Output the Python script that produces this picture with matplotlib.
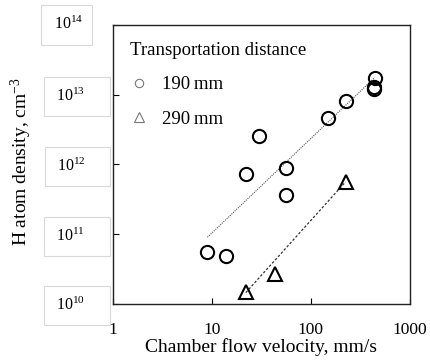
import matplotlib
matplotlib.use("Agg")
import matplotlib.pyplot as plt
from matplotlib.path import Path
from matplotlib.ticker import FixedLocator, NullLocator

plt.rcParams['font.family'] = ['Liberation Serif', 'DejaVu Serif']
plt.rcParams['mathtext.fontset'] = 'stix'

# --- data ---
v_190 = [9.0, 13.8, 22.0, 29.6, 56.0, 56.0, 150, 224, 445, 430, 435]
n_190 = [5.6e10, 4.85e10, 7.2e11, 2.54e12, 9.0e11, 3.6e11, 4.6e12, 8.0e12, 1.72e13, 1.3e13, 1.22e13]
v_290 = [22.0, 43.6, 224]
n_290 = [1.5e10, 2.7e10, 5.6e11]

# fitted trend lines (end points)
fit_190_v = [9.0, 440]
fit_190_n = [9.0e10, 1.75e13]
fit_290_v = [22.0, 224]
fit_290_n = [1.45e10, 5.6e11]

x_ticks = [1, 10, 100, 1000]
x_ticklabels = ['1', '10', '100', '1000']
y_ticks = [1e10, 1e11, 1e12, 1e13, 1e14]
y_exponents = [10, 11, 12, 13, 14]


def padded_box(left, right, vert):
    # box style with different padding on each side (fractions of font size)
    def style(x0, y0, width, height, mutation_size):
        l, r, v = left * mutation_size, right * mutation_size, vert * mutation_size
        return Path([(x0 - l, y0 - v), (x0 + width + r, y0 - v),
                     (x0 + width + r, y0 + height + v), (x0 - l, y0 + height + v),
                     (x0 - l, y0 - v)], closed=True)
    return style


fig = plt.figure(figsize=(4.31, 3.6), dpi=100)
ax = fig.add_axes([0.262, 0.156, 0.689, 0.775])

ax.plot(fit_190_v, fit_190_n, color='#555555', linestyle=(0, (1, 1)), linewidth=0.8)
ax.plot(fit_290_v, fit_290_n, color='#333333', linestyle=(0, (2, 1.5)), linewidth=0.9)

ax.plot(v_190, n_190, linestyle='none', marker='o', markersize=9.5,
        markerfacecolor='none', markeredgecolor='black', markeredgewidth=1.5)
ax.plot(v_290, n_290, linestyle='none', marker='^', markersize=10,
        markerfacecolor='none', markeredgecolor='black', markeredgewidth=1.5)

ax.set_xscale('log')
ax.set_yscale('log')
ax.set_xlim(1, 1000)
ax.set_ylim(1e10, 1e14)

ax.xaxis.set_major_locator(FixedLocator(x_ticks))
ax.xaxis.set_minor_locator(NullLocator())
ax.set_xticklabels(x_ticklabels)
ax.yaxis.set_major_locator(FixedLocator(y_ticks))
ax.yaxis.set_minor_locator(NullLocator())
# boxed labels; the top one is drawn separately (its box sits further left)
ylabels = [r'$\mathregular{10^{%d}}$' % e for e in y_exponents[:-1]] + ['']
ax.set_yticklabels(ylabels)

ax.tick_params(axis='both', direction='in', length=4, width=0.8)
ax.tick_params(axis='x', pad=13, labelsize=12.5)
ax.tick_params(axis='y', pad=20, labelsize=11.5)
for lbl in ax.get_yticklabels():
    lbl.set_bbox(dict(boxstyle=padded_box(0.75, 1.56, 0.68), facecolor='white',
                      edgecolor='#d9d9d9', linewidth=0.8))

ax.text(-0.10, y_ticks[-1], r'$\mathregular{10^{%d}}$' % y_exponents[-1], fontsize=11.5,
        ha='right', va='center', transform=ax.get_yaxis_transform(),
        bbox=dict(boxstyle=padded_box(0.8, 0.56, 0.7), facecolor='white',
                  edgecolor='#d9d9d9', linewidth=0.8))

for sp in ax.spines.values():
    sp.set_linewidth(1.0)
    sp.set_color('#222222')

ax.set_xlabel('Chamber flow velocity, mm/s', fontsize=14, labelpad=0.5)
ax.set_ylabel(r'H atom density, cm$\mathregular{^{-3}}$', fontsize=14)
ax.yaxis.set_label_coords(-0.265, 0.51)

# legend proxies (smaller, grey markers like the reference)
h1, = ax.plot([], [], linestyle='none', marker='o', markersize=6,
              markerfacecolor='none', markeredgecolor='#777777', markeredgewidth=0.8)
h2, = ax.plot([], [], linestyle='none', marker='^', markersize=6.5,
              markerfacecolor='none', markeredgecolor='#777777', markeredgewidth=0.8)
leg = ax.legend([h1, h2], ['190\u2009mm', '290\u2009mm'], title='Transportation distance',
                loc='upper left', frameon=False, fontsize=13.5, title_fontsize=13.5,
                alignment='left', labelspacing=0.93, handlelength=1.0,
                handletextpad=0.7, borderaxespad=0.6, borderpad=0.3)

fig.savefig('out.png', dpi=100)
